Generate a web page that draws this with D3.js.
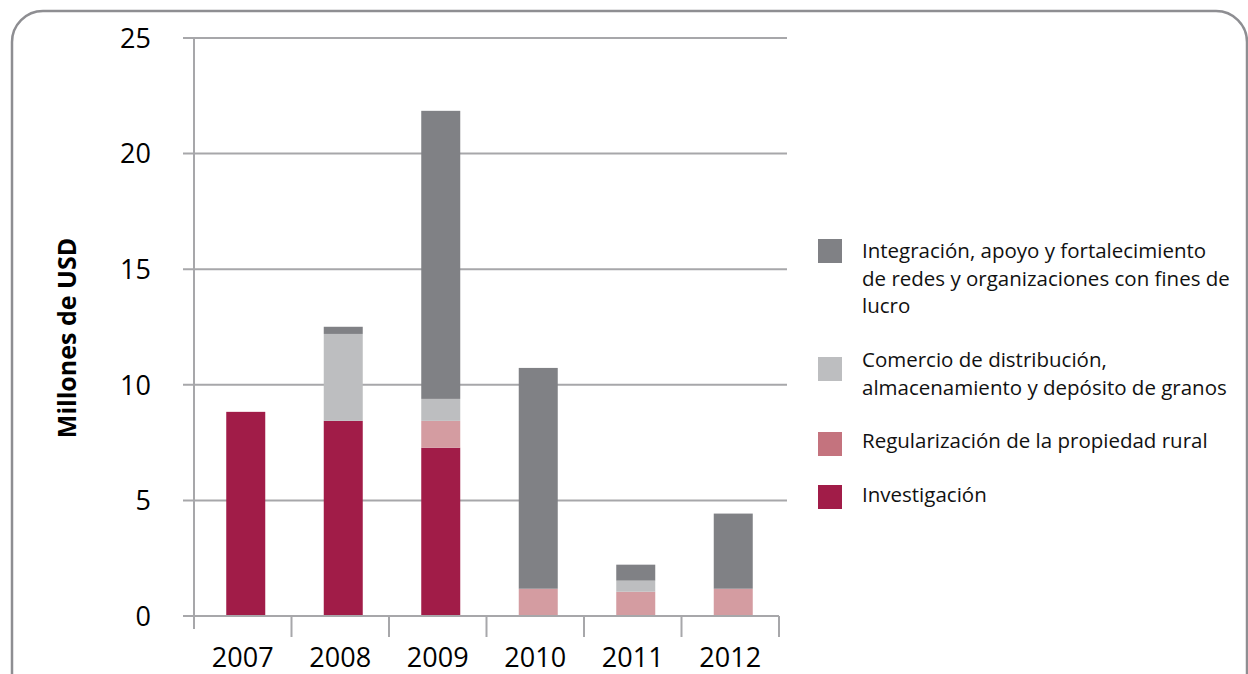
<!DOCTYPE html>
<meta charset="utf-8">
<style>
  body { margin: 0; background: #fff; }
  svg { display: block; font-family: 'Open Sans', sans-serif; }
</style>
<body>
<div id="chart"></div>
<script src="https://cdn.jsdelivr.net/npm/d3@7"></script>
<script>
  // datos (millones de USD)
  const categories = ['2007', '2008', '2009', '2010', '2011', '2012'];
  const investigacion = [8.83, 8.44, 7.28, 0, 0, 0];
  const regularizacion = [0, 0, 1.16, 1.18, 1.05, 1.18];
  const comercio = [0, 3.76, 0.95, 0, 0.48, 0];
  const integracion = [0, 0.31, 12.46, 9.55, 0.69, 3.25];
  const yTicks = [0, 5, 10, 15, 20, 25];
  const keys = ['inv', 'reg', 'com', 'int'];
  const legendLabels = [
    ['Integración, apoyo y fortalecimiento', 'de redes y organizaciones con fines de', 'lucro'],
    ['Comercio de distribución,', 'almacenamiento y depósito de granos'],
    ['Regularización de la propiedad rural'],
    ['Investigación']];

  const barColor = { inv: '#a11c48', reg: '#d49ca1', com: '#bdbec0', int: '#808185' };
  const swatchColor = ['#808185', '#bdbec0', '#c4737e', '#a11c48'];
  const gridColor = '#a7a7aa';

  const table = categories.map((c, i) => ({
    year: c,
    inv: investigacion[i],
    reg: regularizacion[i],
    com: comercio[i],
    int: integracion[i]
  }));

  const series = d3.stack().keys(keys)(table);

  const svg = d3.select('#chart').append('svg')
      .attr('width', 1248)
      .attr('height', 674);

  // marco redondeado
  svg.append('rect')
      .attr('x', 12).attr('y', 11)
      .attr('width', 1235).attr('height', 740)
      .attr('rx', 31)
      .attr('fill', 'none')
      .attr('stroke', '#8e8e92')
      .attr('stroke-width', 2.5);

  const y = d3.scaleLinear().domain([0, 25]).range([616, 38]);
  const xCat = d3.scaleBand().domain(categories).range([194, 779]);
  const x = d3.scaleBand().domain(categories).range([197, 782])
      .paddingInner(0.6).paddingOuter(0.3);

  // rejilla
  svg.append('g').selectAll('line').data(yTicks.filter(d => d > 0)).enter().append('line')
      .attr('x1', 183).attr('x2', 787)
      .attr('y1', d => y(d)).attr('y2', d => y(d))
      .attr('stroke', gridColor).attr('stroke-width', 2);

  // etiquetas eje y
  svg.append('g').selectAll('text').data(yTicks).enter().append('text')
      .attr('x', 151).attr('y', d => y(d))
      .attr('dy', '0.36em')
      .attr('text-anchor', 'end')
      .attr('font-size', 27)
      .attr('fill', '#000')
      .text(d => d);

  // barras
  svg.append('g').selectAll('g').data(series).enter().append('g')
      .attr('fill', d => barColor[d.key])
      .selectAll('rect').data(d => d).enter().append('rect')
      .attr('x', d => x(d.data.year))
      .attr('width', x.bandwidth())
      .attr('y', d => y(d[1]))
      .attr('height', d => y(d[0]) - y(d[1]));

  // ejes
  svg.append('line')
      .attr('x1', 194).attr('x2', 194)
      .attr('y1', y(25)).attr('y2', y(0))
      .attr('stroke', gridColor).attr('stroke-width', 2);
  svg.append('line')
      .attr('x1', 183).attr('x2', xCat.range()[1])
      .attr('y1', y(0)).attr('y2', y(0))
      .attr('stroke', gridColor).attr('stroke-width', 2);

  const bounds = categories.map(c => xCat(c)).concat([xCat.range()[1]]);
  svg.append('g').selectAll('line').data(bounds).enter().append('line')
      .attr('x1', d => d).attr('x2', d => d)
      .attr('y1', y(0)).attr('y2', (d, i) => i === 0 ? y(0) + 13 : y(0) + 21)
      .attr('stroke', gridColor).attr('stroke-width', 2);

  svg.append('g').selectAll('text').data(categories).enter().append('text')
      .attr('x', d => xCat(d) + xCat.bandwidth() / 2)
      .attr('y', 667)
      .attr('text-anchor', 'middle')
      .attr('font-size', 27)
      .attr('fill', '#000')
      .text(d => d);

  // titulo eje y
  svg.append('text')
      .attr('transform', 'translate(76,338) rotate(-90)')
      .attr('text-anchor', 'middle')
      .attr('font-size', 25)
      .attr('font-weight', 'bold')
      .attr('fill', '#000')
      .text('Millones de USD');

  // leyenda
  const legendTop = [239, 357, 432, 485];
  const legendBase = [258, 367, 448, 502];
  const lg = svg.append('g');
  legendLabels.forEach((lines, i) => {
    lg.append('rect')
        .attr('x', 818).attr('y', legendTop[i])
        .attr('width', 24).attr('height', 24)
        .attr('fill', swatchColor[i]);
    lines.forEach((t, j) => {
      lg.append('text')
          .attr('transform', `translate(862,${legendBase[i] + j * 27.5}) scale(1.025,1)`)
          .attr('font-size', 20)
          .attr('fill', '#111')
          .text(t);
    });
  });
</script>
